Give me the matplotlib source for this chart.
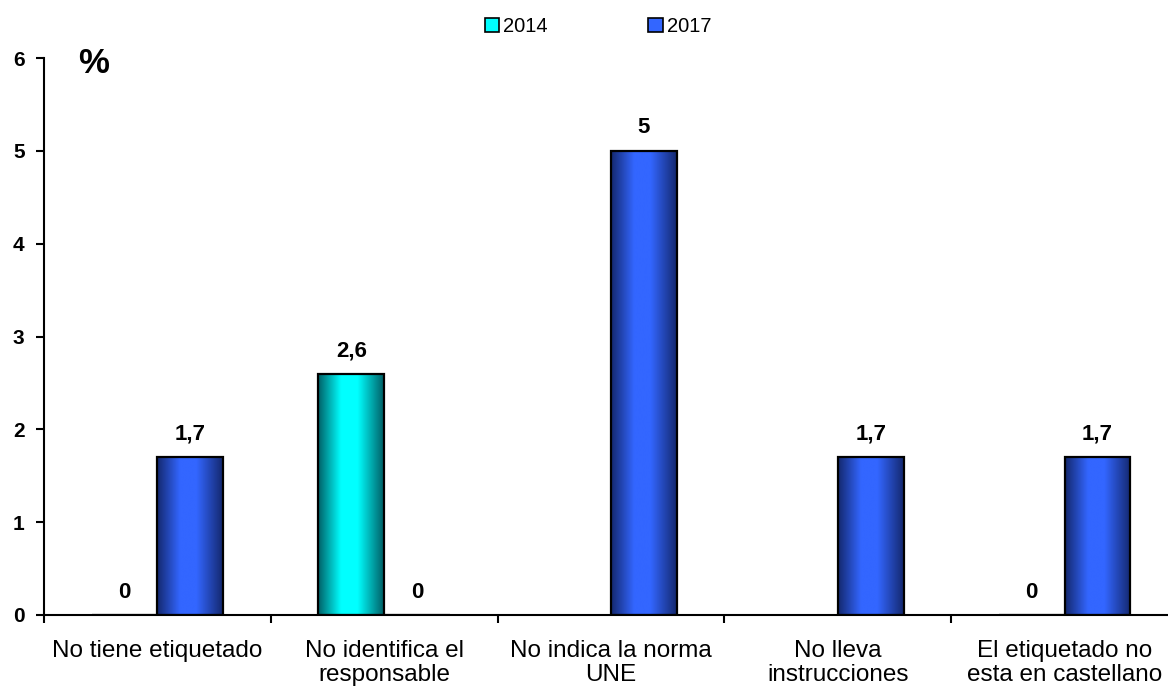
import numpy as np
import matplotlib
matplotlib.use("Agg")
import matplotlib.pyplot as plt
from matplotlib.colors import LinearSegmentedColormap
from matplotlib.patches import Rectangle

plt.rcParams['font.family'] = ['Liberation Sans', 'DejaVu Sans']

categories = ["No tiene etiquetado", "No identifica el\nresponsable",
              "No indica la norma\nUNE", "No lleva\ninstrucciones",
              "El etiquetado no\nesta en castellano"]
years = ["2014", "2017"]
vals2014 = [0, 2.6, np.nan, np.nan, 0]
vals2017 = [1.7, 0, 5, 1.7, 1.7]

colors = {"2014": ("#005f66", "#00ffff"), "2017": ("#14286e", "#3366ff")}

fig = plt.figure(figsize=(11.68, 6.91), dpi=100)
ax = fig.add_axes([44 / 1168, 76 / 691, 1134 / 1168, 557 / 691])

x = np.arange(len(categories))
width = 0.29
offsets = [-0.145, 0.145]


def fmt(v):
    s = "%.1f" % v
    if s.endswith(".0"):
        s = s[:-2]
    return s.replace(".", ",")


for year, vals, off in zip(years, [vals2014, vals2017], offsets):
    dark, light = colors[year]
    cmap = LinearSegmentedColormap.from_list(year, [(0, dark), (0.35, light), (0.6, light), (1, dark)])
    grad = np.linspace(0, 1, 256).reshape(1, -1)
    bars = ax.bar(x + off, np.nan_to_num(vals), width, facecolor="none",
                  edgecolor="black", linewidth=1.6, zorder=3)
    for b, v in zip(bars, vals):
        if np.isnan(v):
            b.set_visible(False)
            continue
        if v > 0:
            im = ax.imshow(grad, cmap=cmap, aspect="auto", zorder=2,
                           extent=[b.get_x(), b.get_x() + b.get_width(), 0, v])
            im.set_clip_path(b)
        ax.annotate(fmt(v), (b.get_x() + b.get_width() / 2, v),
                    xytext=(0, 9), textcoords="offset points",
                    ha="center", va="bottom", fontsize=16, fontweight="bold")

# legend handles
handles = [Rectangle((0, 0), 1, 1, facecolor=colors[y][1], edgecolor="black", lw=1.2)
           for y in years]
fig.legend(handles, years, loc="center", bbox_to_anchor=(0.512, 0.962), ncol=2,
           frameon=False, fontsize=14.5, handlelength=0.7, handleheight=0.7,
           handletextpad=0.2, columnspacing=5.0)

ax.set_xlim(-0.5, len(categories) - 0.5)
ax.set_ylim(0, 6)
ax.set_yticks(range(7))
ax.set_yticklabels([str(i) for i in range(7)], fontweight="bold", fontsize=15)
ax.set_xticks(np.arange(len(categories) + 1) - 0.5, minor=True)
ax.set_xticks(x)
ax.set_xticklabels(categories, fontsize=17.5, linespacing=1.1)
ax.tick_params(axis="x", which="major", length=0, pad=18)
ax.tick_params(axis="x", which="minor", length=6, width=1.5, direction="out")
ax.tick_params(axis="y", length=6, width=1.5, direction="out", pad=8)
for s in ["top", "right"]:
    ax.spines[s].set_visible(False)
for s in ["left", "bottom"]:
    ax.spines[s].set_linewidth(1.5)

ax.text(0.03, 0.99, "%", transform=ax.transAxes, fontsize=25, fontweight="bold",
        ha="left", va="center")

fig.savefig("out.png", dpi=100)
